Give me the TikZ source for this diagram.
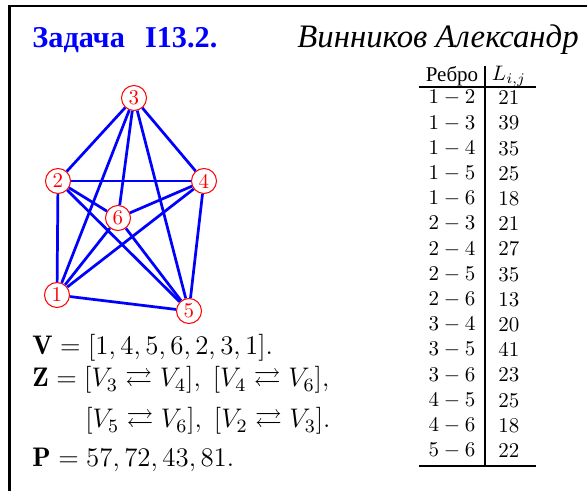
\RequirePackage{fix-cm}
\documentclass[tikz,border=0pt]{standalone}
\usepackage{amsmath,amssymb}
\usepackage{fontspec}
\newfontfamily\cyrfont{Liberation Serif}
\usetikzlibrary{positioning}
\definecolor{edgeblue}{RGB}{0,0,255}
\definecolor{vertexred}{RGB}{255,0,0}
\newcommand{\answerfont}{\fontsize{12.8}{15}\selectfont}

\begin{document}
\begin{tikzpicture}[
			x=0.476pt,y=-0.476pt,
			vertex/.style={
				circle,
				draw=vertexred,
				line width=0.5pt,
				fill=white,
				text=vertexred,
				inner sep=0pt,
				minimum size=25*0.476pt
			},
			graphedge/.style={
				draw=edgeblue,
				line width=1.3pt
			},
			tableline/.style={
				line width=1.4pt
			},
			frameline/.style={
				line width=1.4pt
			},
			textline/.style={
				anchor=base west,
				inner sep=0pt
			},
			answer/.style={
				textline,
				font=\answerfont
			}
			]
			
			\useasboundingbox (0,0) rectangle (587,491);
			
			% frame
			\draw[frameline] (9.7,500) -- (9.7,6) -- (600,6);
			
			\node[textline,text=edgeblue,font=\Large\bfseries\cyrfont] (title) at (32,48)
			{Задача\hspace{9.6pt}I13.2.};
			
			\node[textline,font=\fontsize{15.6}{18}\selectfont\itshape\cyrfont] (author) at (297,48)
			{Винников Александр};
			
			% graph
			\node[vertex] (v1) at (57,295) {1};
			\node[vertex] (v2) at (58,181) {2};
			\node[vertex] (v3) at (134,98) {3};
			\node[vertex] (v4) at (204,181) {4};
			\node[vertex] (v5) at (189,311) {5};
			\node[vertex] (v6) at (118,218) {6};
			
			\foreach \i/\j in {1/2,1/3,1/4,1/5,1/6,2/3,2/4,2/5,2/6,3/4,3/5,3/6,4/5,4/6,5/6}
			\draw[graphedge] (v\i) -- (v\j);
			
			% table
			\node[font=\cyrfont] (headedge) at (452,76) {Ребро};
			\node (headlen) at (509,76) {$L_{i,j}$};
			
			\foreach \a/\b/\w [count=\r] in {1/2/21,1/3/39,1/4/35,1/5/25,1/6/18,
				2/3/21,2/4/27,2/5/35,2/6/13,3/4/20,3/5/41,3/6/23,4/5/25,4/6/18,5/6/22}
			{
				\node (e\r) at (452,{98+25.2*(\r-1)}) {$\a-\b$};
				\node (w\r) at (509,{98+25.2*(\r-1)}) {$\w$};
			}
			
			\coordinate (ttop) at (485,66);
			\coordinate (tbot) at (485,467);
			\draw[tableline] (ttop) -- (tbot);
			\draw[tableline] (419,87) -- (536,87);
			\draw[tableline] (419,466) -- (536,466);
			
			% answer
			\node[answer] (vline) at (32,355) {$\mathbf{V}=[1,4,5,6,2,3,1].$};
			\node[answer] (zline) at (32,387)
			{$\mathbf{Z}=[V_3\rightleftarrows V_4],\;[V_4\rightleftarrows V_6],$};
			\node[answer] (zline2) at (85,428)
			{$[V_5\rightleftarrows V_6],\;[V_2\rightleftarrows V_3].$};
			\node[answer] (pline) at (32,467) {$\mathbf{P}=57,72,43,81.$};
			
		\end{tikzpicture}
\end{document}
